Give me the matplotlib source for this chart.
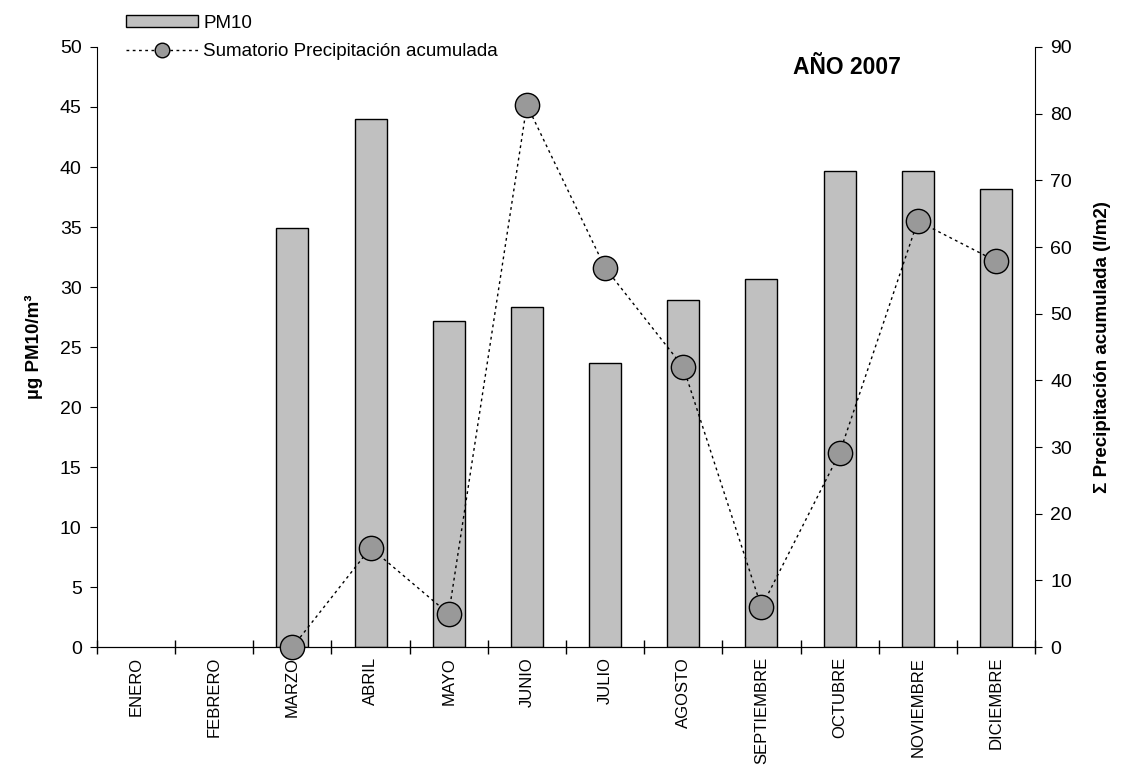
import matplotlib
matplotlib.use("Agg")
import matplotlib.pyplot as plt
import numpy as np

plt.rcParams['font.family'] = ['Liberation Sans', 'DejaVu Sans']

months = ["ENERO", "FEBRERO", "MARZO", "ABRIL", "MAYO", "JUNIO", "JULIO",
          "AGOSTO", "SEPTIEMBRE", "OCTUBRE", "NOVIEMBRE", "DICIEMBRE"]
pm10 = [np.nan, np.nan, 34.9, 44.0, 27.2, 28.3, 23.7, 28.9, 30.7, 39.7, 39.7, 38.2]
precip = [np.nan, np.nan, 0.0, 14.9, 5.0, 81.3, 56.9, 42.0, 6.0, 29.1, 63.9, 57.9]

fig = plt.figure(figsize=(11.21, 7.65), dpi=100)
ax = fig.add_axes([0.0865, 0.154, 0.8368, 0.7846])
x = np.arange(len(months))

bars = ax.bar(x, pm10, width=0.41, color='#c0c0c0', edgecolor='black', linewidth=1.0,
              label='PM10', zorder=2)
ax.set_xlim(-0.5, len(months) - 0.5)
ax.set_ylim(0, 50)
ax.set_yticks(np.arange(0, 51, 5))
ax.set_xticks(np.arange(-0.5, len(months), 1.0))
ax.set_xticklabels([])
ax.set_xticks(x, minor=True)
ax.set_xticklabels(months, minor=True, rotation=90, fontsize=12)
ax.tick_params(axis='x', which='minor', length=0, pad=7)
ax.tick_params(axis='x', which='major', direction='inout', length=10, width=1)
ax.tick_params(axis='y', direction='out', length=5, labelsize=14, pad=6)
ax.spines['top'].set_visible(False)
ax.spines['right'].set_visible(False)
ax.set_ylabel('µg PM10/m³', fontsize=13.5, fontweight='bold', labelpad=12)

ax2 = ax.twinx()
line, = ax2.plot(x, precip, linestyle=(0, (2, 2.5)), color='black', linewidth=1.0,
                 marker='o', markersize=17.5, markerfacecolor='#999999',
                 markeredgecolor='black', markeredgewidth=1.0,
                 label='Sumatorio Precipitación acumulada', zorder=3, clip_on=False)
ax2.set_ylim(0, 90)
ax2.set_yticks(np.arange(0, 91, 10))
ax2.tick_params(axis='y', direction='out', length=5, labelsize=14, pad=6)
ax2.spines['top'].set_visible(False)
ax2.spines['left'].set_visible(False)
ax2.set_ylabel('Σ Precipitación acumulada (l/m2)', fontsize=13.5, fontweight='bold',
               labelpad=16)

ax2.text(0.8, 0.985, 'AÑO 2007', transform=ax.transAxes, fontsize=16.5,
         fontweight='bold', ha='center', va='top')

leg_handles = [bars, line]
leg = fig.legend(leg_handles, ['PM10', 'Sumatorio Precipitación acumulada'],
                 loc='upper left', bbox_to_anchor=(0.101, 0.998), frameon=False,
                 fontsize=13.5, handlelength=3.8, handleheight=0.6,
                 labelspacing=0.6, borderpad=0.2, handletextpad=0.3,
                 markerscale=0.6)

fig.savefig('out.png', dpi=100)
